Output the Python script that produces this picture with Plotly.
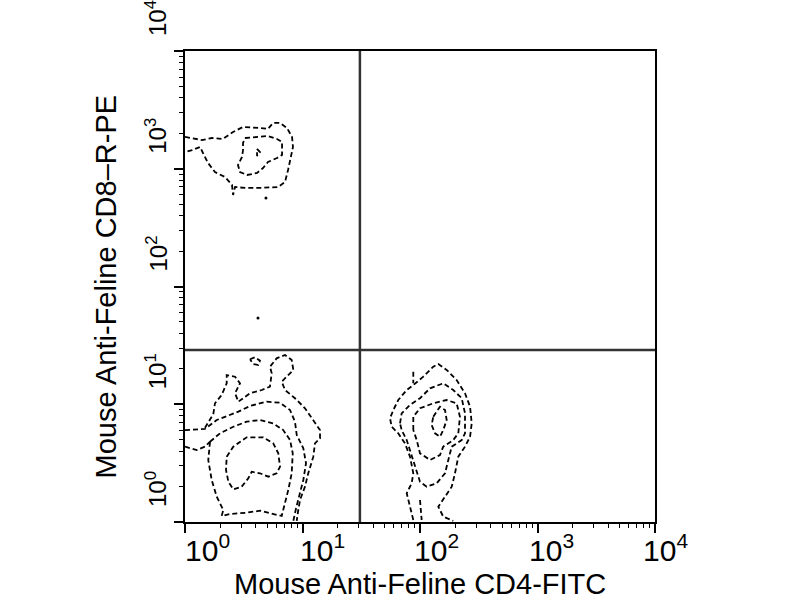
import plotly.graph_objects as go

FONT = "Liberation Sans, Arial, sans-serif"

X_TITLE = "Mouse Anti-Feline CD4-FITC"
Y_TITLE = "Mouse Anti-Feline CD8–R-PE"
DECADES = [0, 1, 2, 3, 4]
TICK_TEXT = ["10<sup>0</sup>", "10<sup>1</sup>", "10<sup>2</sup>", "10<sup>3</sup>", "10<sup>4</sup>"]

# quadrant gate positions (fluorescence units)
CD4_GATE = 30.8
CD8_GATE = 28.9

# contour rings, points as (log10 CD4-FITC, log10 CD8-R-PE)
ul_outer = [(0.0, 3.270), (0.145, 3.244), (0.230, 3.261), (0.323, 3.253), (0.409, 3.312), (0.494, 3.355),
            (0.638, 3.346), (0.706, 3.338), (0.749, 3.389), (0.809, 3.389), (0.868, 3.346), (0.911, 3.270),
            (0.919, 3.185), (0.902, 3.100), (0.877, 2.989), (0.851, 2.887), (0.791, 2.845), (0.638, 2.837),
            (0.511, 2.837), (0.426, 2.845), (0.409, 2.777), (0.400, 2.862), (0.340, 2.930), (0.255, 2.972),
            (0.196, 3.049), (0.153, 3.134), (0.128, 3.185), (0.060, 3.159), (0.0, 3.142)]
ul_inner = [(0.511, 3.261), (0.638, 3.270), (0.706, 3.278), (0.783, 3.253), (0.826, 3.227), (0.826, 3.117),
            (0.783, 3.091), (0.706, 3.057), (0.664, 3.006), (0.613, 2.964), (0.528, 2.947), (0.468, 2.972),
            (0.451, 3.032), (0.485, 3.100), (0.494, 3.159), (0.494, 3.219), (0.511, 3.261)]
ul_core = [(0.613, 3.168), (0.638, 3.142), (0.613, 3.108), (0.613, 3.168)]

bl_ring1 = [(0.170, 0.800), (0.241, 0.917), (0.255, 1.008), (0.312, 1.079), (0.355, 1.178), (0.355, 1.248),
            (0.426, 1.234), (0.468, 1.178), (0.426, 1.093), (0.454, 1.022), (0.553, 1.093), (0.653, 1.121),
            (0.723, 1.149), (0.738, 1.263), (0.723, 1.319), (0.780, 1.390), (0.851, 1.418), (0.908, 1.376),
            (0.922, 1.291), (0.866, 1.234), (0.823, 1.192), (0.851, 1.121), (0.936, 1.051), (1.021, 0.966),
            (1.092, 0.866), (1.149, 0.781), (1.149, 0.711), (1.106, 0.668), (1.092, 0.555), (1.049, 0.414),
            (1.021, 0.300), (0.979, 0.187), (0.964, 0.102), (0.951, 0.010)]
bl_ring2 = [(0.0, 0.780), (0.170, 0.790), (0.270, 0.866), (0.454, 0.937), (0.553, 0.985), (0.695, 1.022),
            (0.809, 1.013), (0.894, 0.951), (0.936, 0.852), (0.951, 0.739), (1.007, 0.626), (1.030, 0.499),
            (1.007, 0.357), (0.973, 0.229), (0.945, 0.116), (0.922, 0.010)]
bl_ring2_left = [(0.0, 0.640), (0.100, 0.611), (0.170, 0.640), (0.213, 0.682)]
bl_ring3 = [(0.213, 0.682), (0.298, 0.753), (0.411, 0.809), (0.525, 0.852), (0.638, 0.866), (0.751, 0.838),
            (0.836, 0.781), (0.894, 0.696), (0.917, 0.583), (0.908, 0.414), (0.879, 0.272), (0.843, 0.130),
            (0.823, 0.051), (0.723, 0.074), (0.638, 0.096), (0.525, 0.079), (0.383, 0.068), (0.312, 0.051),
            (0.326, 0.102), (0.270, 0.215), (0.227, 0.357), (0.198, 0.527), (0.213, 0.682)]
bl_core = [(0.355, 0.555), (0.411, 0.640), (0.525, 0.719), (0.666, 0.719), (0.751, 0.668), (0.794, 0.583),
           (0.809, 0.470), (0.780, 0.414), (0.709, 0.385), (0.638, 0.414), (0.568, 0.427), (0.539, 0.371),
           (0.482, 0.300), (0.411, 0.278), (0.369, 0.342), (0.349, 0.442), (0.355, 0.555)]
bl_islet = [(0.553, 1.382), (0.596, 1.399), (0.638, 1.370), (0.624, 1.333), (0.581, 1.342), (0.553, 1.382)]

br_ring1 = [(1.943, 0.017), (1.915, 0.130), (1.887, 0.244), (1.929, 0.329), (1.943, 0.414), (1.915, 0.555),
            (1.872, 0.668), (1.815, 0.753), (1.759, 0.809), (1.745, 0.881), (1.773, 0.951), (1.815, 1.036),
            (1.887, 1.121), (1.943, 1.163), (2.028, 1.234), (2.113, 1.319), (2.156, 1.342), (2.227, 1.291),
            (2.312, 1.206), (2.383, 1.093), (2.426, 0.979), (2.440, 0.838), (2.426, 0.724), (2.383, 0.640),
            (2.326, 0.555), (2.298, 0.414), (2.270, 0.300), (2.213, 0.215), (2.156, 0.130), (2.198, 0.045),
            (2.283, 0.010)]
br_ring2 = [(1.830, 0.838), (1.844, 0.923), (1.915, 0.994), (2.000, 1.051), (2.085, 1.135), (2.198, 1.178),
            (2.283, 1.121), (2.355, 1.051), (2.383, 0.923), (2.383, 0.753), (2.355, 0.696), (2.270, 0.640),
            (2.241, 0.527), (2.213, 0.414), (2.142, 0.329), (2.057, 0.300), (2.000, 0.342), (1.957, 0.470),
            (1.915, 0.611), (1.887, 0.696), (1.844, 0.781), (1.830, 0.838)]
br_ring3 = [(1.943, 0.781), (1.943, 0.894), (2.000, 0.966), (2.113, 1.008), (2.227, 1.036), (2.312, 1.008),
            (2.340, 0.894), (2.326, 0.753), (2.283, 0.696), (2.198, 0.640), (2.170, 0.569), (2.085, 0.527),
            (2.000, 0.583), (1.972, 0.696), (1.943, 0.781)]
br_core = [(2.113, 0.894), (2.170, 0.979), (2.213, 0.951), (2.227, 0.866), (2.198, 0.781), (2.170, 0.724),
           (2.128, 0.753), (2.099, 0.824), (2.113, 0.894)]
br_tick = [(1.943, 1.277), (1.943, 1.178)]
br_stem = [(2.000, 0.187), (2.006, 0.102), (2.014, 0.017)]

stray_events = [(0.689, 2.752), (0.621, 1.732)]

contours = [ul_outer, ul_inner, ul_core, bl_ring1, bl_ring2, bl_ring2_left, bl_ring3, bl_core, bl_islet,
            br_ring1, br_ring2, br_ring3, br_core, br_tick, br_stem]

fig = go.Figure()

for ring in contours:
    fig.add_trace(go.Scatter(
        x=[10 ** a for a, b in ring], y=[10 ** b for a, b in ring], mode="lines",
        line=dict(color="black", width=1.8, dash="5px,3px"),
        hoverinfo="skip", showlegend=False))

fig.add_trace(go.Scatter(
    x=[10 ** a for a, b in stray_events], y=[10 ** b for a, b in stray_events], mode="markers",
    marker=dict(color="black", size=3), hoverinfo="skip", showlegend=False))

# quadrant gate lines
fig.add_trace(go.Scatter(x=[CD4_GATE, CD4_GATE], y=[1, 10 ** 4], mode="lines",
                         line=dict(color="#333333", width=2.5), hoverinfo="skip", showlegend=False))
fig.add_trace(go.Scatter(x=[1, 10 ** 4], y=[CD8_GATE, CD8_GATE], mode="lines",
                         line=dict(color="#333333", width=2.5), hoverinfo="skip", showlegend=False))

minor_vals = [m * 10 ** k for k in range(4) for m in range(2, 10)]
major_vals = [10 ** k for k in DECADES]

axis_common = dict(
    type="log", range=[0, 4], showgrid=False, zeroline=False,
    showline=True, mirror=True, linecolor="black", linewidth=2,
    ticks="outside", ticklen=9, tickwidth=1.5, tickcolor="black",
    tickmode="array", tickvals=major_vals, showticklabels=False,
    minor=dict(tickmode="array", tickvals=minor_vals, ticks="outside", ticklen=4,
               tickwidth=1, tickcolor="black", showgrid=False),
)

annotations = []
for k, t in zip(DECADES, TICK_TEXT):
    annotations.append(dict(x=k, xref="x", y=0, yref="paper", text=t, showarrow=False,
                            xanchor="left", yanchor="bottom", xshift=-2 - 3 * k, yshift=-47,
                            font=dict(family=FONT, size=30, color="black")))
    annotations.append(dict(x=0, xref="paper", y=k, yref="y", text=t, showarrow=False,
                            textangle=-90, xanchor="right", yanchor="bottom", xshift=-12, yshift=13,
                            font=dict(family=FONT, size=24, color="black")))

annotations.append(dict(x=0.5, xref="paper", y=0, yref="paper", text=X_TITLE, showarrow=False,
                        xanchor="center", yanchor="middle", yshift=-62, borderpad=0,
                        font=dict(family=FONT, size=29, color="black")))
annotations.append(dict(x=0, xref="paper", y=0.5, yref="paper", text=Y_TITLE, showarrow=False,
                        textangle=-90, xanchor="center", yanchor="middle", xshift=-80,
                        font=dict(family=FONT, size=29, color="black")))

fig.update_layout(
    width=800, height=600,
    margin=dict(l=185, r=145, t=51, b=78),
    plot_bgcolor="white", paper_bgcolor="white",
    xaxis=axis_common, yaxis=axis_common,
    annotations=annotations,
    shapes=[
        dict(type="line", xref="paper", yref="paper", x0=-0.018, x1=0, y0=0, y1=0,
             line=dict(color="black", width=2)),
        dict(type="line", xref="paper", yref="paper", x0=0, x1=0, y0=-0.022, y1=0,
             line=dict(color="black", width=2)),
    ],
)

fig.write_html("out.html", config={"displayModeBar": False},
               post_script="document.body.style.margin='0';document.body.style.overflow='hidden';")
